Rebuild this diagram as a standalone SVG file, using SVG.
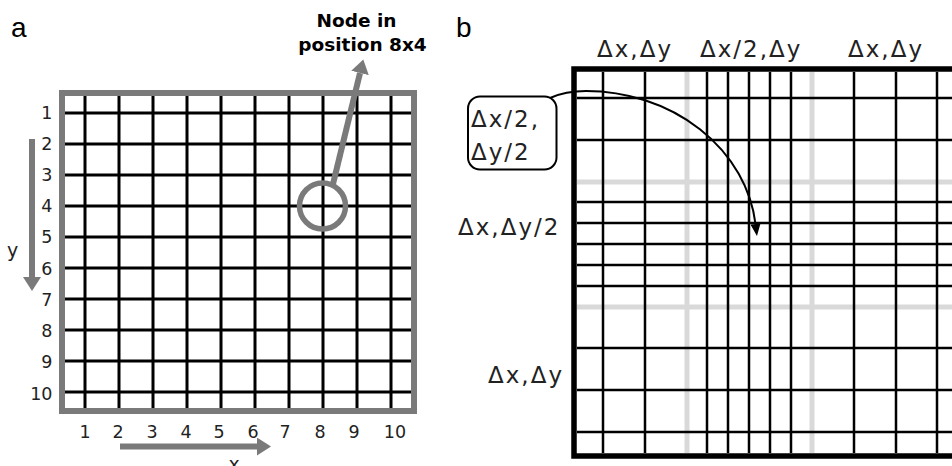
<svg xmlns="http://www.w3.org/2000/svg" width="952" height="466" viewBox="0 0 952 466">
<style>
.gridA line{stroke:#000;stroke-width:3}
.gridB line{stroke:#000;stroke-width:2.5}
.faint line{stroke:#d9d9d9;stroke-width:5}
.num{font-family:"DejaVu Sans",Verdana,sans-serif;font-size:17.5px;fill:#222}
.axl{font-family:"DejaVu Sans",Verdana,sans-serif;font-size:19px;fill:#222;text-anchor:middle}
.dl{font-family:"DejaVu Sans",Verdana,sans-serif;font-size:23px;fill:#222;letter-spacing:2px}
.panel{font-family:"Liberation Sans",Arial,sans-serif;font-size:28px;fill:#000}
.bold{font-family:"DejaVu Sans",Verdana,sans-serif;font-size:18.5px;font-weight:bold;fill:#000;text-anchor:middle}
.garrow{stroke:#7a7a7a;stroke-width:6;fill:none}
</style>
<defs>
<marker id="gh" viewBox="0 0 14 18" refX="0" refY="9" markerWidth="14" markerHeight="18" markerUnits="userSpaceOnUse" orient="auto">
<path d="M0,0 L14,9 L0,18 z" fill="#7a7a7a"/>
</marker>
<marker id="bh" viewBox="0 0 12 10" refX="0" refY="5" markerWidth="12" markerHeight="10" markerUnits="userSpaceOnUse" orient="auto">
<path d="M0,0 L12,5 L0,10 z" fill="#000"/>
</marker>
</defs>
<rect width="952" height="466" fill="#fff"/>

<g id="panel-a">
<text class="panel" x="11" y="37">a</text>
<g id="grid-a">
<rect x="62" y="93" width="352" height="318" fill="#fff" stroke="#7a7a7a" stroke-width="6"/>
<g class="gridA">
<line x1="85" y1="96" x2="85" y2="408"/>
<line x1="119" y1="96" x2="119" y2="408"/>
<line x1="153" y1="96" x2="153" y2="408"/>
<line x1="187" y1="96" x2="187" y2="408"/>
<line x1="221" y1="96" x2="221" y2="408"/>
<line x1="255" y1="96" x2="255" y2="408"/>
<line x1="289" y1="96" x2="289" y2="408"/>
<line x1="323" y1="96" x2="323" y2="408"/>
<line x1="357" y1="96" x2="357" y2="408"/>
<line x1="391" y1="96" x2="391" y2="408"/>
<line x1="65" y1="113" x2="411" y2="113"/>
<line x1="65" y1="144" x2="411" y2="144"/>
<line x1="65" y1="175" x2="411" y2="175"/>
<line x1="65" y1="206" x2="411" y2="206"/>
<line x1="65" y1="237" x2="411" y2="237"/>
<line x1="65" y1="268" x2="411" y2="268"/>
<line x1="65" y1="299" x2="411" y2="299"/>
<line x1="65" y1="330" x2="411" y2="330"/>
<line x1="65" y1="361" x2="411" y2="361"/>
<line x1="65" y1="392" x2="411" y2="392"/>
</g>
</g>
<g id="row-labels" class="num" text-anchor="end">
<text x="52.5" y="118.5">1</text>
<text x="52.5" y="149.5">2</text>
<text x="52.5" y="180.5">3</text>
<text x="52.5" y="211.5">4</text>
<text x="52.5" y="242.5">5</text>
<text x="52.5" y="275">6</text>
<text x="52.5" y="306">7</text>
<text x="52.5" y="337">8</text>
<text x="52.5" y="368">9</text>
<text x="52.5" y="400">10</text>
</g>
<g id="col-labels" class="num" text-anchor="middle">
<text x="85" y="438">1</text>
<text x="118" y="438">2</text>
<text x="152" y="438">3</text>
<text x="186" y="438">4</text>
<text x="219" y="438">5</text>
<text x="253" y="438">6</text>
<text x="285" y="438">7</text>
<text x="320" y="438">8</text>
<text x="354" y="438">9</text>
<text x="395" y="438">10</text>
</g>
<g id="y-axis">
<line class="garrow" x1="32" y1="139" x2="32" y2="277" marker-end="url(#gh)"/>
<text class="axl" x="12.5" y="257">y</text>
</g>
<g id="x-axis">
<line class="garrow" x1="120" y1="446.5" x2="257" y2="446.5" marker-end="url(#gh)"/>
<text class="axl" x="234" y="471">x</text>
</g>
<g id="node-8x4">
<circle cx="322.5" cy="206" r="23" fill="none" stroke="#7a7a7a" stroke-width="5.5"/>
<text class="bold" x="356.5" y="27">Node in</text>
<text class="bold" x="362.5" y="51">position 8x4</text>
</g>
</g>

<g id="panel-b">
<text class="panel" x="456" y="37">b</text>
<g id="grid-b">
<g class="faint">
<line x1="687" y1="72" x2="687" y2="453"/>
<line x1="812" y1="72" x2="812" y2="453"/>
<line x1="577" y1="182" x2="952" y2="182"/>
<line x1="577" y1="307" x2="952" y2="307"/>
</g>
<g class="gridB">
<line x1="603" y1="72" x2="603" y2="453"/>
<line x1="645" y1="72" x2="645" y2="453"/>
<line x1="707" y1="72" x2="707" y2="453"/>
<line x1="728" y1="72" x2="728" y2="453"/>
<line x1="749" y1="72" x2="749" y2="453"/>
<line x1="770" y1="72" x2="770" y2="453"/>
<line x1="791" y1="72" x2="791" y2="453"/>
<line x1="854" y1="72" x2="854" y2="453"/>
<line x1="896" y1="72" x2="896" y2="453"/>
<line x1="937" y1="72" x2="937" y2="453"/>
<line x1="577" y1="98" x2="952" y2="98"/>
<line x1="577" y1="140" x2="952" y2="140"/>
<line x1="577" y1="202" x2="952" y2="202"/>
<line x1="577" y1="223" x2="952" y2="223"/>
<line x1="577" y1="244" x2="952" y2="244"/>
<line x1="577" y1="265" x2="952" y2="265"/>
<line x1="577" y1="286" x2="952" y2="286"/>
<line x1="577" y1="348" x2="952" y2="348"/>
<line x1="577" y1="390" x2="952" y2="390"/>
<line x1="577" y1="432" x2="952" y2="432"/>
</g>
<rect x="574" y="69" width="500" height="387" fill="none" stroke="#000" stroke-width="5.5"/>
</g>
<g id="top-labels" class="dl">
<text x="597" y="57">Δx,Δy</text>
<text x="700" y="57">Δx/2,Δy</text>
<text x="848" y="57">Δx,Δy</text>
</g>
<g id="label-fine">
<rect x="468" y="96.5" width="88.5" height="73" rx="12" ry="12" fill="#fff" stroke="#000" stroke-width="2"/>
<text class="dl" x="471" y="127">Δx/2,</text>
<text class="dl" x="471" y="160">Δy/2</text>
</g>
<g id="left-labels" class="dl">
<text x="458" y="235">Δx,Δy/2</text>
<text x="488" y="383">Δx,Δy</text>
</g>
</g>

<g id="connectors">
<line class="garrow" x1="333" y1="184" x2="360" y2="73" stroke-width="5.5" marker-end="url(#gh)"/>
<path d="M550,98 C561,93 573,91 586,91 A171,149 0 0 1 755.5,224" fill="none" stroke="#000" stroke-width="2" marker-end="url(#bh)"/>
</g>
</svg>
